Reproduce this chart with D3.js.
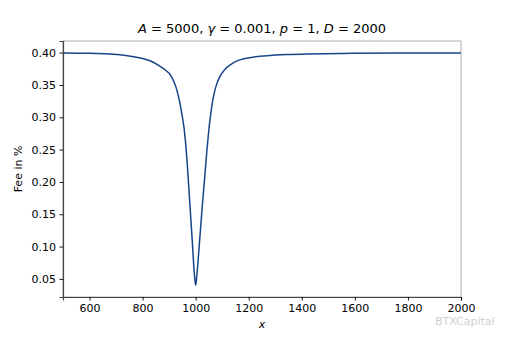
<!DOCTYPE html>
<html>
<head>
<meta charset="utf-8">
<script src="https://cdn.jsdelivr.net/npm/d3@7"></script>
<style>
  body { margin: 0; background: #fff; }
  svg text { font-family: "DejaVu Sans", sans-serif; fill: #000; }
</style>
</head>
<body>
<div id="chart"></div>
<script>
// values
let xs = [500, 600, 673, 730, 787, 830, 862, 900, 923, 938, 951, 956, 961, 967, 972, 979, 987, 995, 1000,
    1005, 1015, 1025, 1034, 1040, 1046, 1054, 1064, 1076, 1090, 1110, 1130, 1160, 1215, 1342, 1592, 2000]
let fees = [0.3995, 0.399, 0.398, 0.396, 0.392, 0.387, 0.380, 0.368, 0.350, 0.327, 0.298, 0.284, 0.265, 0.235, 0.205, 0.160, 0.110, 0.058, 0.040,
    0.058, 0.110, 0.163, 0.207, 0.237, 0.265, 0.296, 0.325, 0.347, 0.362, 0.374, 0.381, 0.388, 0.393, 0.397, 0.399, 0.3995]
let xTicks = [600, 800, 1000, 1200, 1400, 1600, 1800, 2000]
let yTicks = [0.05, 0.10, 0.15, 0.20, 0.25, 0.30, 0.35, 0.40]

let W = 512, H = 341
let mLeft = 63, mRight = 461, mTop = 41, mBottom = 297

let svg = d3.select('#chart')
    .append('svg')
    .attr('width', W)
    .attr('height', H)

let xScale = d3.scaleLinear()
    .domain([500, 2000])
    .range([mLeft, mRight])

let yScale = d3.scaleLinear()
    .domain([0.022, 0.418])
    .range([mBottom, mTop])

let xAxis = d3.axisBottom(xScale).tickValues(xTicks).tickSize(3.5).tickPadding(3.5).tickFormat(d3.format('d'))
let yAxis = d3.axisLeft(yScale).tickValues(yTicks).tickSize(3.5).tickPadding(3.5).tickFormat(d3.format('.2f'))

// frame
svg.append('rect')
    .attr('x', mLeft)
    .attr('y', mTop)
    .attr('width', mRight - mLeft)
    .attr('height', mBottom - mTop)
    .attr('fill', 'none')
    .attr('stroke', '#bbb')
    .attr('stroke-width', 1.2)

let line = d3.line()
    .x((d, i) => xScale(xs[i]))
    .y(d => yScale(d))
    .curve(d3.curveCatmullRom.alpha(0.5))

svg.append('path')
    .datum(fees)
    .attr('d', line)
    .attr('fill', 'none')
    .attr('stroke', '#16468a')
    .attr('stroke-width', 1.5)

let gx = svg.append('g')
    .attr('transform', `translate(0,${mBottom})`)
    .call(xAxis)
let gy = svg.append('g')
    .attr('transform', `translate(${mLeft},0)`)
    .call(yAxis)

;[gx, gy].forEach(g => {
    g.select('.domain').attr('stroke', '#444').attr('stroke-width', 1.2)
    g.selectAll('.tick line').attr('stroke', '#000').attr('stroke-width', 0.9)
    g.selectAll('.tick text').attr('font-size', 11).attr('font-family', 'DejaVu Sans').attr('fill', '#000')
})

// title with math italic parts
let title = svg.append('text')
    .attr('x', (mLeft + mRight) / 2)
    .attr('y', 33)
    .attr('text-anchor', 'middle')
    .attr('font-size', 13)
let parts = [['A', true], [' = 5000, ', false], ['γ', true], [' = 0.001, ', false],
    ['p', true], [' = 1, ', false], ['D', true], [' = 2000', false]]
parts.forEach(p => {
    title.append('tspan')
        .attr('font-style', p[1] ? 'italic' : 'normal')
        .text(p[0])
})

svg.append('text')
    .attr('transform', `translate(22,${(mTop + mBottom) / 2}) rotate(-90)`)
    .attr('text-anchor', 'middle')
    .attr('font-size', 11)
    .text('Fee in %')

svg.append('text')
    .attr('x', (mLeft + mRight) / 2)
    .attr('y', 328)
    .attr('text-anchor', 'middle')
    .attr('font-size', 11)
    .attr('font-style', 'italic')
    .text('x')

// watermark
svg.append('text')
    .attr('x', 435)
    .attr('y', 325)
    .attr('font-size', 11)
    .style('fill', '#c8c8c8')
    .attr('opacity', 0.85)
    .text('BTXCapital')
</script>
</body>
</html>
